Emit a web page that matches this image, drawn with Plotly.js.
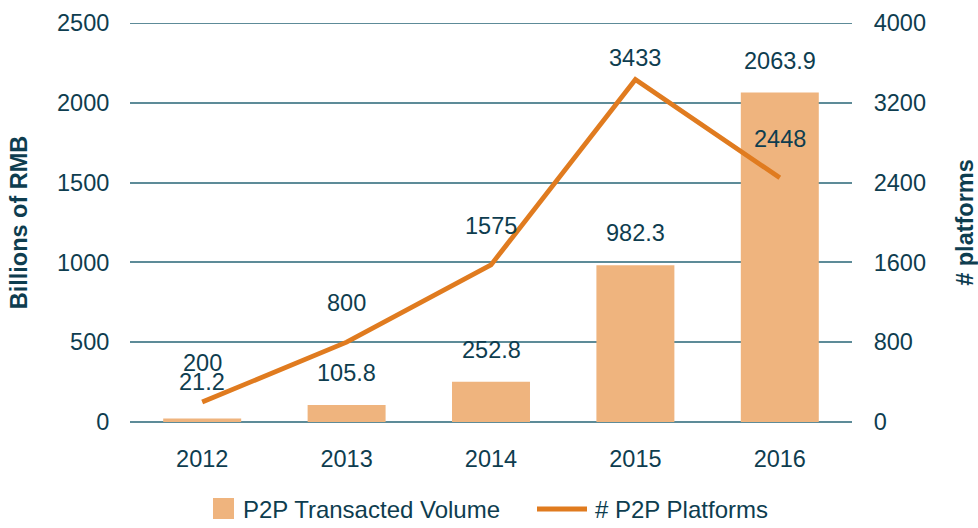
<!DOCTYPE html>
<html>
<head>
<meta charset="utf-8">
<script src="https://cdn.plot.ly/plotly-3.0.1.min.js"></script>
<style>html,body{margin:0;padding:0;background:#fff;}#chart{width:978px;height:528px;}</style>
</head>
<body>
<div id="chart"></div>
<script>
var years = ['2012', '2013', '2014', '2015', '2016'];
var volume = [21.2, 105.8, 252.8, 982.3, 2063.9];
var volumeLabels = ['21.2', '105.8', '252.8', '982.3', '2063.9'];
var platforms = [200, 800, 1575, 3433, 2448];
var platformLabels = ['200', '800', '1575', '3433', '2448'];
var leftTicks = [0, 500, 1000, 1500, 2000, 2500];
var rightTicks = [0, 800, 1600, 2400, 3200, 4000];
var seriesNames = ['P2P Transacted Volume', '# P2P Platforms'];

var textColor = '#0e3d4f';
var gridColor = '#5d8b98';
var barColor = '#efb47e';
var lineColor = '#e07b1f';
var fontFam = 'Liberation Sans, Arial, sans-serif';
var fs = 23.5;

var W = 978, H = 528;
var M = {l: 130, r: 126, t: 23, b: 106};
var plotW = W - M.l - M.r, plotH = H - M.t - M.b;
function px(x) { return (x - M.l) / plotW; }
function py(y) { return (H - M.b - y) / plotH; }

var traces = [
  {type: 'bar', x: years, y: volume, name: seriesNames[0],
   marker: {color: barColor}, hoverinfo: 'none'},
  {type: 'scatter', mode: 'lines', x: years, y: platforms, yaxis: 'y2',
   name: seriesNames[1], line: {color: lineColor, width: 4.8}, hoverinfo: 'none'}
];

var annotations = [];
var maxP = Math.max.apply(null, platforms);
years.forEach(function (yr, i) {
  annotations.push({x: i, y: volume[i], xref: 'x', yref: 'y', text: volumeLabels[i],
    showarrow: false, yanchor: 'bottom', yshift: i === 0 ? 22 : 17,
    font: {size: fs, color: textColor, family: fontFam}});
  annotations.push({x: i, y: platforms[i], xref: 'x', yref: 'y2', text: platformLabels[i],
    showarrow: false, yanchor: 'bottom', yshift: platforms[i] === maxP ? 7 : 24,
    font: {size: fs, color: textColor, family: fontFam}});
});

// legend (drawn by hand so the symbols match the reference size)
var legY = py(509);
annotations.push({xref: 'paper', yref: 'paper', x: px(241), y: legY, xanchor: 'left', yanchor: 'middle',
  text: seriesNames[0], showarrow: false, font: {size: 24, color: textColor, family: fontFam}});
annotations.push({xref: 'paper', yref: 'paper', x: px(593), y: legY, xanchor: 'left', yanchor: 'middle',
  text: seriesNames[1], showarrow: false, font: {size: 24, color: textColor, family: fontFam}});

var shapes = [
  {type: 'line', xref: 'paper', yref: 'y', x0: 0, x1: 1, y0: 2500, y1: 2500,
    line: {color: gridColor, width: 2}, layer: 'below'},
  {type: 'rect', xref: 'paper', yref: 'paper', x0: px(213), x1: px(234), y0: py(519), y1: py(498),
    fillcolor: barColor, line: {width: 0}},
  {type: 'line', xref: 'paper', yref: 'paper', x0: px(537), x1: px(587), y0: legY, y1: legY,
    line: {color: lineColor, width: 5}}
];

var layout = {
  width: W, height: H,
  margin: M,
  paper_bgcolor: '#fff', plot_bgcolor: '#fff',
  font: {family: fontFam, color: textColor, size: fs},
  bargap: 0.46,
  showlegend: false,
  xaxis: {type: 'category', range: [-0.5, 4.5], automargin: false, showgrid: false, zeroline: false, showline: false,
    ticks: 'outside', ticklen: 16, tickcolor: 'rgba(0,0,0,0)',
    tickfont: {size: fs, color: textColor}},
  yaxis: {range: [0, 2500], automargin: false, tickvals: leftTicks, ticktext: leftTicks.map(String),
    showgrid: true, gridcolor: gridColor, gridwidth: 2,
    zeroline: true, zerolinecolor: gridColor, zerolinewidth: 2, showline: false,
    ticks: 'outside', ticklen: 15, tickcolor: 'rgba(0,0,0,0)',
    tickfont: {size: fs, color: textColor},
    title: {text: 'Billions of RMB', font: {size: fs, color: textColor, weight: 'bold'}, standoff: 22}},
  yaxis2: {range: [0, 4000], automargin: false, tickvals: rightTicks, ticktext: rightTicks.map(String),
    overlaying: 'y', side: 'right', showgrid: false, zeroline: false, showline: false,
    ticks: 'outside', ticklen: 16, tickcolor: 'rgba(0,0,0,0)',
    tickfont: {size: fs, color: textColor},
    title: {text: '# platforms', font: {size: fs, color: textColor, weight: 'bold'}, standoff: 32}},
  shapes: shapes,
  annotations: annotations
};

Plotly.newPlot('chart', traces, layout, {displayModeBar: false, staticPlot: true});
</script>
</body>
</html>
